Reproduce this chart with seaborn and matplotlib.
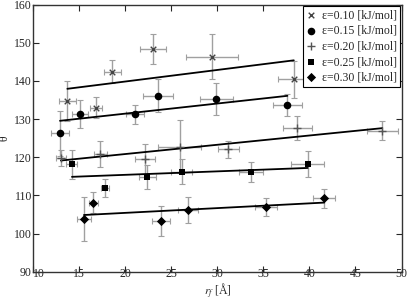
import numpy as np
import pandas as pd
import matplotlib
matplotlib.use("Agg")
import matplotlib.pyplot as plt
import seaborn as sns

# ---------- DATA ----------
labels = ["ε=0.10 [kJ/mol]", "ε=0.15 [kJ/mol]", "ε=0.20 [kJ/mol]",
          "ε=0.25 [kJ/mol]", "ε=0.30 [kJ/mol]"]

x10 = [13.7, 16.8, 18.6, 23.0, 29.4, 38.3]
y10 = [134.7, 133.0, 142.4, 148.4, 146.3, 140.4]
xe10 = [0.9, 0.65, 0.9, 1.45, 2.8, 1.75]
ye10 = [5.2, 2.8, 3.0, 4.0, 5.9, 4.9]

x15 = [12.9, 15.1, 21.05, 23.55, 29.9, 37.6]
y15 = [126.3, 131.3, 131.3, 136.1, 135.3, 133.7]
xe15 = [1.0, 0.85, 0.95, 1.6, 1.8, 1.55]
ye15 = [5.9, 3.7, 2.5, 4.3, 4.3, 2.9]

x20 = [13.0, 17.3, 22.1, 25.9, 31.2, 38.7, 47.9]
y20 = [119.8, 120.8, 119.5, 122.8, 122.1, 127.6, 127.0]
xe20 = [0.5, 0.7, 1.1, 2.35, 1.1, 1.6, 1.7]
ye20 = [2.2, 3.4, 3.9, 7.0, 2.2, 3.2, 2.6]

x25 = [14.2, 17.8, 22.4, 26.1, 33.7, 39.8]
y25 = [118.2, 111.9, 114.9, 116.2, 116.1, 118.2]
xe25 = [0.6, 0.4, 0.9, 1.1, 1.3, 1.8]
ye25 = [3.8, 2.4, 3.2, 3.25, 2.7, 3.4]

x30 = [15.5, 16.5, 23.85, 26.8, 35.3, 41.6]
y30 = [103.8, 108.1, 103.3, 106.2, 106.9, 109.2]
xe30 = [0.8, 0.5, 1.0, 1.1, 1.2, 1.2]
ye30 = [5.8, 2.8, 4.0, 3.4, 2.3, 2.4]

xs = [x10, x15, x20, x25, x30]
ys = [y10, y15, y20, y25, y30]
xerrs = [xe10, xe15, xe20, xe25, xe30]
yerrs = [ye10, ye15, ye20, ye25, ye30]

markers = ["x", "o", "+", "s", "D"]
colors = ["#444444", "black", "#555555", "black", "black"]
sizes = [16, 30, 28, 22, 22]

# ---------- STYLE ----------
sns.set_style("ticks")
plt.rcParams["font.family"] = ["Liberation Serif", "DejaVu Serif"]
plt.rcParams["mathtext.fontset"] = "stix"
plt.rcParams["xtick.direction"] = "in"
plt.rcParams["ytick.direction"] = "in"

fig = plt.figure(figsize=(4.08, 3.0), dpi=100)
ax = fig.add_axes([0.0816, 0.0943, 0.9025, 0.8900])

for x, y, xe, ye, m, c, s, lab in zip(xs, ys, xerrs, yerrs, markers, colors, sizes, labels):
    ax.errorbar(x, y, xerr=xe, yerr=ye, fmt="none", ecolor="#a0a0a0",
                elinewidth=1.0, capsize=2.5, capthick=0.8, zorder=1)
    df = pd.DataFrame({"r": x, "theta": y})
    # least-squares fit line over each series' range
    sns.regplot(data=df, x="r", y="theta", scatter=False, ci=None, truncate=True,
                color="black", line_kws={"lw": 1.3, "zorder": 2}, ax=ax)
    sns.scatterplot(data=df, x="r", y="theta", marker=m, color=c, s=s,
                    linewidth=1.0 if m in ("x", "+") else 0, edgecolor=c,
                    label=lab, zorder=3, ax=ax)

ax.set_xlim(10, 50)
ax.set_ylim(90, 160)
ax.set_xticks(np.arange(10, 51, 5))
ax.set_yticks(np.arange(90, 161, 10))
ax.tick_params(top=True, right=True, labelsize=8.5, length=4, width=0.8)
ax.tick_params(axis="x", pad=-3)
ax.tick_params(axis="y", pad=1)
ax.get_xticklabels()[0].set_horizontalalignment("left")
for sp in ax.spines.values():
    sp.set_visible(True)
    sp.set_linewidth(1.0)
    sp.set_color("#333333")

ax.set_xlabel(r"$r_f$ [Å]", fontsize=8.5)
ax.xaxis.set_label_coords(0.5, -0.04)
ax.set_ylabel("θ", fontsize=8.5)
ax.yaxis.set_label_coords(-0.062, 0.5)

leg = ax.legend(loc="upper right", fontsize=8.5, frameon=True, fancybox=False,
                edgecolor="black", framealpha=1, borderpad=0.3, labelspacing=0.3,
                handlelength=0.8, handletextpad=0.5, borderaxespad=0.1)
leg.get_frame().set_linewidth(0.8)

fig.savefig("out.png", dpi=100)
